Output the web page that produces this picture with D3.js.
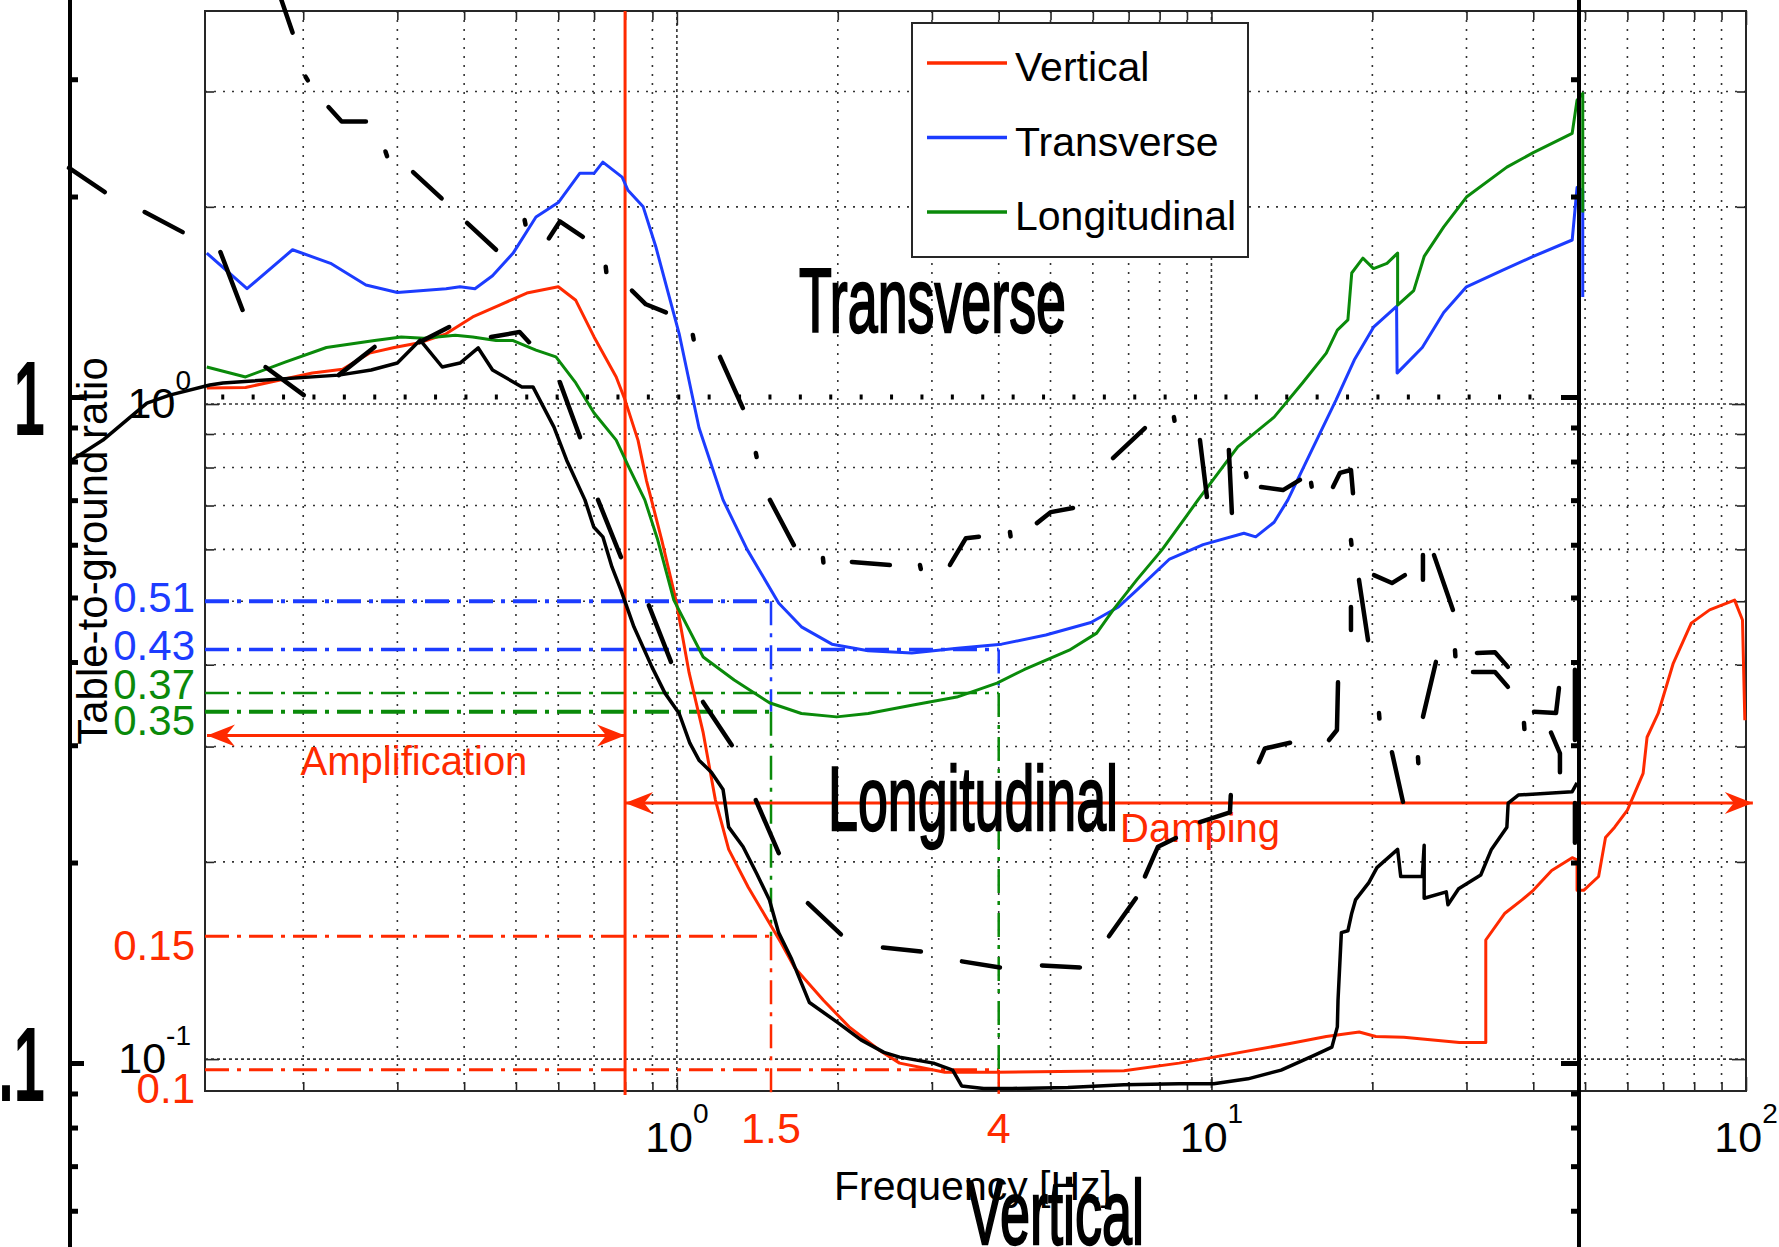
<!DOCTYPE html>
<html>
<head>
<meta charset="utf-8">
<script src="https://cdn.jsdelivr.net/npm/d3@7/dist/d3.min.js"></script>
<style>
  body { margin: 0; background: #fff; }
  svg text { font-family: "Liberation Sans", Arial, Helvetica, sans-serif; }
</style>
</head>
<body>
<script>
// table-to-ground ratio vs frequency [Hz]
const verticalRatio = [
  [0.132,1.058],[0.156,1.06],[0.208,1.115],[0.237,1.13],[0.266,1.196],[0.296,1.22],[0.33,1.24],
  [0.37,1.28],[0.415,1.358],[0.466,1.416],[0.524,1.477],[0.6,1.51],[0.647,1.44],[0.7,1.266],
  [0.77,1.1],[0.8,1.014],[0.846,0.88],[0.877,0.765],[0.937,0.62],[0.996,0.502],[1.054,0.389],
  [1.12,0.315],[1.18,0.249],[1.25,0.209],[1.36,0.183],[1.57,0.15],[1.66,0.138],[1.88,0.123],
  [2.1,0.112],[2.4,0.103],[2.61,0.0986],[3.17,0.0955],[3.98,0.0955],[6.86,0.096],[8.7,0.0986],
  [10.1,0.1007],[14.1,0.1057],[16.4,0.1083],[18.9,0.11],[20.3,0.1083],[22.9,0.108],[29.1,0.106],
  [32.6,0.106],[32.6,0.152],[35.4,0.167],[38.1,0.175],[40,0.181],[43.3,0.194],[47.3,0.203],
  [48.3,0.2015],[48.3,0.181],[49.7,0.181],[53,0.19],[54.6,0.218],[56.8,0.226],[60,0.24],
  [64.2,0.273],[65.3,0.31],[68.5,0.337],[73.1,0.402],[79,0.463],[85.5,0.485],[95.2,0.502],
  [98.5,0.468],[99.5,0.329]
];
const transverseRatio = [
  [0.132,1.70],[0.157,1.50],[0.191,1.72],[0.225,1.64],[0.262,1.52],[0.3,1.48],[0.37,1.50],
  [0.393,1.51],[0.419,1.50],[0.452,1.57],[0.494,1.70],[0.545,1.93],[0.6,2.03],[0.658,2.25],
  [0.7,2.25],[0.727,2.34],[0.79,2.22],[0.81,2.12],[0.865,2.0],[0.913,1.74],[1.01,1.28],[1.1,0.92],
  [1.22,0.714],[1.353,0.6],[1.55,0.497],[1.71,0.457],[1.95,0.43],[2.28,0.42],[2.75,0.417],
  [3.35,0.424],[4.05,0.43],[4.9,0.444],[5.95,0.464],[6.7,0.49],[7.25,0.52],[8.35,0.58],
  [9.65,0.61],[11.5,0.635],[12.1,0.627],[13.1,0.66],[13.9,0.714],[15.4,0.85],[17.1,1.014],
  [18.5,1.167],[20.1,1.31],[22.2,1.41],[22.25,1.115],[24.8,1.22],[27.2,1.38],[30,1.51],[35,1.6],
  [40,1.68],[47.3,1.78],[48.3,2.14],[49.5,2.12],[49.5,1.457]
];
const longitudinalRatio = [
  [0.132,1.139],[0.156,1.1],[0.185,1.159],[0.221,1.22],[0.272,1.25],[0.305,1.266],[0.336,1.26],
  [0.385,1.274],[0.415,1.266],[0.459,1.25],[0.494,1.25],[0.545,1.209],[0.594,1.18],[0.647,1.077],
  [0.7,0.969],[0.77,0.881],[0.813,0.801],[0.871,0.714],[0.921,0.62],[0.987,0.502],[1.12,0.411],
  [1.28,0.379],[1.49,0.35],[1.71,0.337],[1.99,0.333],[2.28,0.337],[2.75,0.347],[3.34,0.357],
  [3.97,0.375],[4.46,0.393],[5.42,0.421],[6.1,0.447],[6.55,0.485],[7.25,0.539],[8.08,0.599],
  [8.95,0.672],[9.44,0.714],[11.2,0.86],[13.1,0.955],[14.8,1.077],[16.4,1.196],[17.2,1.297],
  [18,1.344],[18.3,1.585],[19.2,1.67],[20.1,1.61],[21.3,1.64],[22.3,1.70],[22.3,1.416],[23.9,1.49],
  [25,1.68],[27.2,1.864],[30,2.07],[35.7,2.3],[40,2.42],[47.3,2.59],[48.3,2.91],[49.5,2.98],
  [49.5,1.96]
];

// black curve pasted over the plot
const overlaySolid = [
  [0.0729,0.816],[0.0844,0.881],[0.102,1.0035],[0.1125,1.032],[0.1337,1.069],[0.1415,1.077],
  [0.233,1.107],[0.268,1.127],[0.3,1.155],[0.331,1.252],[0.364,1.139],[0.393,1.155],[0.425,1.218],
  [0.452,1.127],[0.513,1.062],[0.538,1.062],[0.589,0.922],[0.622,0.821],[0.673,0.714],[0.699,0.649],
  [0.727,0.627],[0.756,0.564],[0.786,0.52],[0.831,0.457],[0.898,0.397],[0.95,0.362],[1.01,0.337],
  [1.057,0.304],[1.1,0.286],[1.16,0.274],[1.22,0.258],[1.25,0.226],[1.33,0.211],[1.41,0.192],
  [1.49,0.175],[1.55,0.156],[1.64,0.142],[1.77,0.122],[2.0,0.1137],[2.21,0.107],[2.44,0.1024],
  [2.61,0.1007],[3.02,0.0986],[3.28,0.0962],[3.41,0.091],[3.75,0.0902],[4.24,0.0902],[5.39,0.0905],
  [6.86,0.0914],[8.7,0.0917],[10.1,0.0917],[11.7,0.0933],[13.5,0.0962],[15.6,0.1014],[16.8,0.1043],
  [17.2,0.112],[17.25,0.123],[17.5,0.156],[18.0,0.157],[18.3,0.167],[18.6,0.175],[19.7,0.186],
  [20.4,0.196],[22.3,0.209],[22.6,0.19],[24.8,0.19],[25.0,0.212],[25.0,0.176],[27.5,0.18],
  [27.7,0.172],[29.0,0.182],[31.9,0.191],[33.4,0.209],[35.7,0.226],[35.9,0.246],[37.5,0.253],
  [47.3,0.256],[48.3,0.264]
];
// broken black strokes of the pasted curves
const overlayPieces = [
  [[0.182,4.14],[0.191,3.69]], [[0.202,3.16],[0.204,3.12]], [[0.223,2.84],[0.236,2.70],[0.262,2.70]],
  [[0.285,2.43],[0.287,2.39]], [[0.321,2.26],[0.363,2.06]], [[0.405,1.89],[0.459,1.72]],
  [[0.519,1.91],[0.521,1.88]], [[0.576,1.79],[0.604,1.90],[0.667,1.80]], [[0.736,1.62],[0.738,1.59]],
  [[0.824,1.49],[0.875,1.42],[0.954,1.38]], [[1.071,1.275],[1.075,1.255]], [[1.204,1.18],[1.329,0.986]],
  [[1.405,0.842],[1.41,0.83]], [[1.493,0.714],[1.655,0.609]], [[1.876,0.582],[1.88,0.573]],
  [[2.125,0.574],[2.503,0.568]], [[2.849,0.568],[2.86,0.56]], [[3.242,0.568],[3.473,0.624],[3.673,0.627]],
  [[4.198,0.638],[4.21,0.628]], [[4.716,0.658],[5.008,0.684],[5.507,0.694]], [[6.543,0.827],[7.509,0.919]],
  [[8.507,0.955],[8.53,0.943]], [[9.517,0.881],[9.808,0.721]], [[10.78,0.851],[10.92,0.682]],
  [[11.6,0.785],[11.63,0.774]], [[12.38,0.747],[13.61,0.739],[14.64,0.766]], [[15.36,0.758],[15.4,0.748]],
  [[16.88,0.747],[17.39,0.785],[18.24,0.793],[18.4,0.731]], [[18.24,0.62],[18.28,0.61]],
  [[20.14,0.548],[21.76,0.533],[23.01,0.548]], [[24.87,0.588],[24.87,0.539]], [[26.08,0.588],[28.3,0.485]],
  [[18.88,0.539],[19.63,0.436]], [[18.24,0.49],[18.24,0.452]], [[28.55,0.421],[28.6,0.412]],
  [[26.3,0.404],[24.87,0.333]], [[31.38,0.417],[33.92,0.418],[35.86,0.397]],
  [[30.85,0.39],[33.92,0.39],[35.86,0.37]], [[17.25,0.376],[17.17,0.318],[16.59,0.307]],
  [[20.58,0.3375],[20.62,0.331]], [[40.12,0.339],[44.12,0.3375],[44.68,0.3685]], [[38.43,0.326],[38.5,0.319]],
  [[43.18,0.315],[44.87,0.293],[44.87,0.274]], [[12.27,0.284],[12.59,0.298],[14.03,0.304]],
  [[21.76,0.294],[22.82,0.247]], [[24.34,0.289],[24.38,0.283]], [[47.86,0.393],[47.86,0.307]],
  [[47.86,0.246],[47.86,0.214]], [[9.517,0.23],[10.83,0.238],[10.87,0.253]],
  [[7.509,0.19],[7.943,0.211],[8.582,0.2175]], [[6.43,0.154],[7.223,0.176]], [[4.819,0.139],[5.675,0.138]],
  [[3.414,0.141],[4.021,0.138]], [[2.429,0.148],[2.861,0.146]], [[1.758,0.173],[2.027,0.155]],
  [[1.405,0.2485],[1.551,0.2063]], [[1.119,0.351],[1.267,0.3015]], [[0.886,0.493],[0.975,0.404]],
  [[0.712,0.714],[0.786,0.584]], [[0.604,1.08],[0.659,0.89]], [[0.449,1.266],[0.508,1.288],[0.529,1.243]],
  [[0.233,1.107],[0.272,1.222]], [[0.330,1.243],[0.375,1.311]], [[0.170,1.139],[0.2005,1.032]],
  [[0.140,1.706],[0.154,1.392]], [[0.0729,2.293],[0.0851,2.107]], [[0.101,1.964],[0.119,1.83]]
];

// dash-dot reading lines
const refLabels = ["0.51", "0.43", "0.37", "0.35", "0.15", "0.1"];
const refValues = [0.50, 0.422, 0.362, 0.339, 0.154, 0.0963];
const refStopFreq = [1.5, 4, 4, 1.5, 1.5, 4];
const refSeries = ["Transverse", "Transverse", "Longitudinal", "Longitudinal", "Vertical", "Vertical"];
const markFreqs = [1.5, 4];
const markLabels = ["1.5", "4"];
const splitFreq = 0.8;
const ampLevel = 0.312;
const dampLevel = 0.246;
const dampEnd = 103;

const legendNames = ["Vertical", "Transverse", "Longitudinal"];

const xMinor = [0.2,0.3,0.4,0.5,0.6,0.7,0.8,0.9,2,3,4,5,6,7,8,9,20,30,40,50,60,70,80,90];
const xMajor = [1, 10, 100];
const xMajorExp = ["0", "1", "2"];
const yMinor = [0.2,0.3,0.4,0.5,0.6,0.7,0.8,0.9,2,3];
const yMajor = [0.1, 1];
const yMajorExp = ["-1", "0"];

const overlayMinor = [0.06,0.07,0.08,0.09,0.2,0.3,0.4,0.5,0.6,0.7,0.8,0.9,2,3];
const overlayMajor = [0.1, 1];
const overlayMajorLabels = [".1", "1"];

const W = 1779, H = 1247;
const colors = { Vertical: "#ff2a00", Transverse: "#1c3cff", Longitudinal: "#0a8a0a" };
const axisColor = "#262626";

const svg = d3.select("body").append("svg")
    .attr("width", W).attr("height", H)
    .style("display", "block");

const x = d3.scaleLog().domain([0.131, 100]).range([205, 1746]);
const y = d3.scaleLog().domain([0.0894, 3.981]).range([1091, 11]);
const yOver = d3.scaleLog().domain([0.1, 1]).range([1063, 397]);

const axL = x.range()[0], axR = x.range()[1];
const axB = y.range()[0], axT = y.range()[1];

// grid
const grid = svg.append("g").attr("stroke", "#333").attr("stroke-width", 1.6);
grid.selectAll(".gx").data(xMinor.concat([1, 10])).join("line")
    .attr("x1", d => x(d)).attr("x2", d => x(d))
    .attr("y1", axT).attr("y2", axB)
    .attr("stroke-dasharray", d => xMajor.includes(d) ? "3,3" : "2,7");
grid.selectAll(".gy").data(yMinor.concat(yMajor)).join("line")
    .attr("y1", d => y(d)).attr("y2", d => y(d))
    .attr("x1", axL).attr("x2", axR)
    .attr("stroke-dasharray", d => yMajor.includes(d) ? "3,3" : "2,7");

// ticks
function ticks(axis, vals, size, transform) {
    svg.append("g").attr("transform", transform)
        .call(axis.tickValues(vals).tickSize(size).tickSizeOuter(0).tickFormat(""))
        .call(g => g.select(".domain").remove())
        .selectAll("line").attr("stroke", axisColor).attr("stroke-width", 1.6);
}
ticks(d3.axisBottom(x), xMinor, -9, `translate(0,${axB})`);
ticks(d3.axisBottom(x), xMajor, -14, `translate(0,${axB})`);
ticks(d3.axisTop(x), xMinor, -9, `translate(0,${axT})`);
ticks(d3.axisTop(x), xMajor, -14, `translate(0,${axT})`);
ticks(d3.axisLeft(y), yMinor, -9, `translate(${axL},0)`);
ticks(d3.axisLeft(y), yMajor, -14, `translate(${axL},0)`);
ticks(d3.axisRight(y), yMinor, -9, `translate(${axR},0)`);
ticks(d3.axisRight(y), yMajor, -14, `translate(${axR},0)`);

svg.append("rect")
    .attr("x", axL).attr("y", axT)
    .attr("width", axR - axL).attr("height", axB - axT)
    .attr("fill", "none").attr("stroke", axisColor).attr("stroke-width", 2);

// reading lines
const refWidths = [4, 3.5, 2.5, 4, 3, 3];
const dashDot = "24,8,4,8";
const refs = svg.append("g").attr("fill", "none");
refValues.forEach((v, i) => {
    refs.append("line")
        .attr("x1", axL).attr("x2", x(refStopFreq[i]))
        .attr("y1", y(v)).attr("y2", y(v))
        .attr("stroke", colors[refSeries[i]])
        .attr("stroke-width", refWidths[i])
        .attr("stroke-dasharray", dashDot);
});
markFreqs.forEach(f => {
    const idx = refValues.map((v, i) => i).filter(i => refStopFreq[i] === f)
        .sort((a, b) => refValues[b] - refValues[a]);
    idx.forEach((i, k) => {
        const y2 = k < idx.length - 1 ? y(refValues[idx[k + 1]]) : axB + 3;
        refs.append("line")
            .attr("x1", x(f)).attr("x2", x(f))
            .attr("y1", y(refValues[i])).attr("y2", y2)
            .attr("stroke", colors[refSeries[i]])
            .attr("stroke-width", 2.5)
            .attr("stroke-dasharray", dashDot);
    });
});

// amplification / damping divider
svg.append("line")
    .attr("x1", x(splitFreq)).attr("x2", x(splitFreq))
    .attr("y1", axT).attr("y2", axB + 4)
    .attr("stroke", colors.Vertical).attr("stroke-width", 3);

function arrow(xa, xb, yy) {
    const g = svg.append("g");
    g.append("line").attr("x1", xa).attr("x2", xb).attr("y1", yy).attr("y2", yy)
        .attr("stroke", colors.Vertical).attr("stroke-width", 3);
    [[xa, 1], [xb, -1]].forEach(([tip, dir]) => {
        g.append("path")
            .attr("d", `M${tip},${yy} L${tip + dir * 28},${yy - 11} L${tip + dir * 19},${yy} L${tip + dir * 28},${yy + 11} Z`)
            .attr("fill", colors.Vertical);
    });
}
arrow(axL + 2, x(splitFreq), y(ampLevel));
arrow(x(splitFreq), x(dampEnd), y(dampLevel));

svg.append("text").attr("x", 414).attr("y", y(ampLevel) + 40)
    .attr("text-anchor", "middle").attr("font-size", 40)
    .attr("fill", colors.Vertical).text("Amplification");
svg.append("text").attr("x", 1120).attr("y", y(dampLevel) + 39)
    .attr("font-size", 40).attr("fill", colors.Vertical).text("Damping");

// series
const line = d3.line().x(d => x(d[0])).y(d => y(d[1]));
[["Vertical", verticalRatio], ["Transverse", transverseRatio], ["Longitudinal", longitudinalRatio]]
    .forEach(([name, data]) => {
        svg.append("path").datum(data)
            .attr("d", line)
            .attr("fill", "none")
            .attr("stroke", colors[name])
            .attr("stroke-width", 3)
            .attr("stroke-linejoin", "round");
    });

// tick labels
yMajor.forEach((v, i) => {
    const t = svg.append("text").attr("x", 191).attr("y", y(v) + 14)
        .attr("text-anchor", "end").attr("font-size", 43);
    t.append("tspan").text("10");
    t.append("tspan").attr("dy", -28).attr("font-size", 28).text(yMajorExp[i]);
});
xMajor.forEach((f, i) => {
    const t = svg.append("text").attr("x", x(f)).attr("y", 1152)
        .attr("text-anchor", "middle").attr("font-size", 43);
    t.append("tspan").text("10");
    t.append("tspan").attr("dy", -29).attr("font-size", 28).text(xMajorExp[i]);
});
markFreqs.forEach((f, i) => {
    svg.append("text").attr("x", x(f)).attr("y", 1143)
        .attr("text-anchor", "middle").attr("font-size", 43)
        .attr("fill", colors.Vertical).text(markLabels[i]);
});
const labelShift = [11, 11, 6, 23, 24, 33];
refLabels.forEach((s, i) => {
    svg.append("text").attr("x", 195).attr("y", y(refValues[i]) + labelShift[i])
        .attr("text-anchor", "end").attr("font-size", 42)
        .attr("fill", colors[refSeries[i]]).text(s);
});

svg.append("text").attr("x", 973).attr("y", 1200)
    .attr("text-anchor", "middle").attr("font-size", 41).text("Frequency [Hz]");
svg.append("text").attr("transform", "translate(107,551) rotate(-90)")
    .attr("text-anchor", "middle").attr("font-size", 42).text("Table-to-ground ratio");

// legend
const legend = svg.append("g").attr("transform", "translate(912,23)");
legend.append("rect").attr("width", 336).attr("height", 234)
    .attr("fill", "#fff").attr("stroke", axisColor).attr("stroke-width", 2);
legendNames.forEach((name, i) => {
    const ly = 40 + i * 74.5;
    legend.append("line").attr("x1", 15).attr("x2", 95).attr("y1", ly).attr("y2", ly)
        .attr("stroke", colors[name]).attr("stroke-width", 3.5);
    legend.append("text").attr("x", 103).attr("y", ly + 18)
        .attr("font-size", 41).text(name);
});

// pasted black overlay
const over = svg.append("g");
const overLeft = 70, overRight = 1579;
[overLeft, overRight].forEach(px => {
    over.append("line").attr("x1", px).attr("x2", px).attr("y1", 0).attr("y2", H)
        .attr("stroke", "#000").attr("stroke-width", 4);
});
function overTicks(axis, vals, size, transform) {
    over.append("g").attr("transform", transform)
        .call(axis.tickValues(vals).tickSize(size).tickSizeOuter(0).tickFormat(""))
        .call(g => g.select(".domain").remove())
        .selectAll("line").attr("stroke", "#000").attr("stroke-width", 5);
}
overTicks(d3.axisRight(yOver), overlayMinor, 8, `translate(${overLeft},0)`);
overTicks(d3.axisRight(yOver), overlayMajor, 14, `translate(${overLeft},0)`);
overTicks(d3.axisLeft(yOver), overlayMinor, 8, `translate(${overRight},0)`);
overTicks(d3.axisLeft(yOver), overlayMajor, 18, `translate(${overRight},0)`);

overlayMajor.forEach((v, i) => {
    over.append("text")
        .attr("transform", `translate(45,${yOver(v) + 38}) scale(1,1.9)`)
        .attr("text-anchor", "end").attr("font-size", 56).attr("font-weight", "bold")
        .text(overlayMajorLabels[i]);
});
over.append("line")
    .attr("x1", x(0.1405)).attr("x2", x(40))
    .attr("y1", yOver(1)).attr("y2", yOver(1))
    .attr("stroke", "#000").attr("stroke-width", 5)
    .attr("stroke-dasharray", "3,27.4");

over.append("path").datum(overlaySolid)
    .attr("d", line).attr("fill", "none")
    .attr("stroke", "#000").attr("stroke-width", 3.5).attr("stroke-linejoin", "round");
over.selectAll(".piece").data(overlayPieces).join("path")
    .attr("d", line).attr("fill", "none")
    .attr("stroke", "#000").attr("stroke-width", 4.5)
    .attr("stroke-linecap", "round").attr("stroke-linejoin", "round");

// big condensed words of the pasted figure
[["Transverse", 799, 332, 267], ["Longitudinal", 828, 830, 290], ["Vertical", 967, 1244, 177]]
    .forEach(([s, px, py, len]) => {
        over.append("text")
            .attr("transform", `translate(${px},${py}) scale(1,1.78)`)
            .attr("font-size", 51)
            .attr("textLength", len).attr("lengthAdjust", "spacingAndGlyphs")
            .attr("stroke", "#000").attr("stroke-width", 1.3)
            .text(s);
    });
</script>
</body>
</html>
